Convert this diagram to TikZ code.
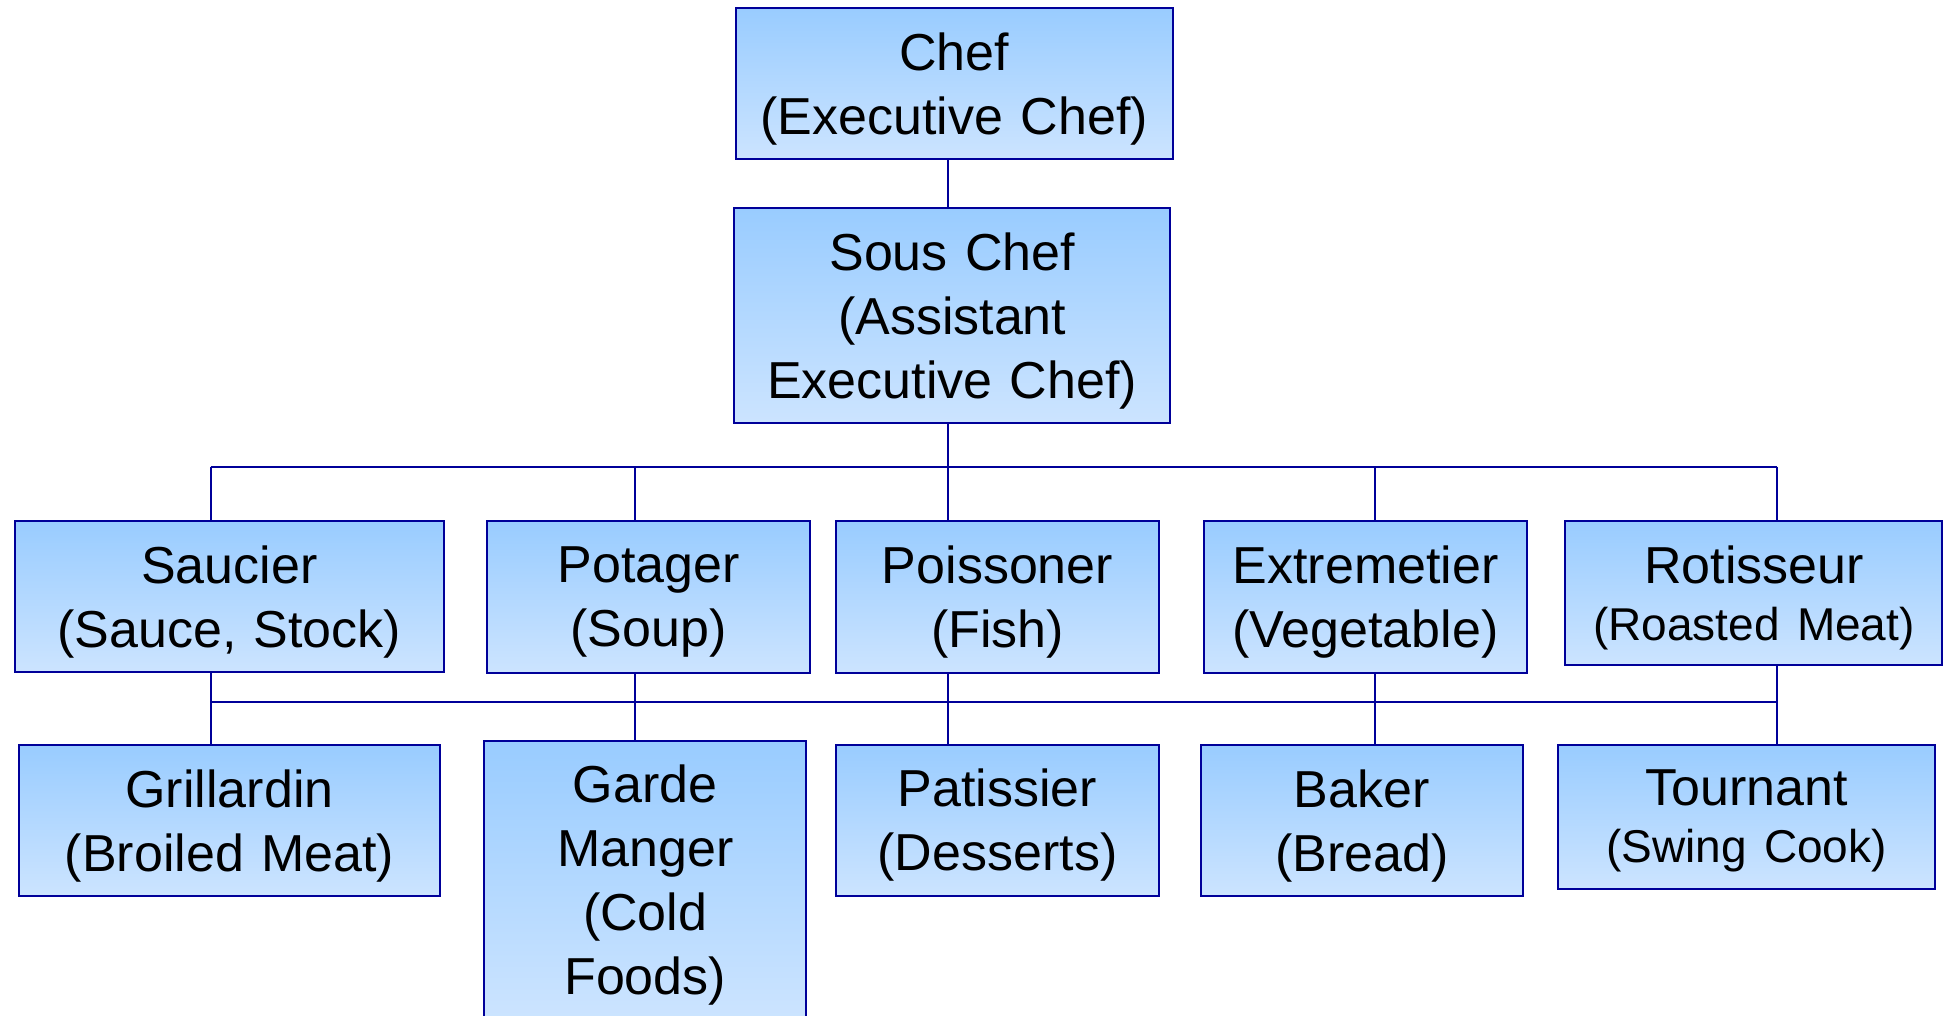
\documentclass[tikz,border=0pt]{standalone}
\usepackage{fontspec}
\setmainfont{Liberation Sans}
\definecolor{lineblue}{RGB}{0,0,153}
\definecolor{boxtop}{RGB}{153,204,255}
\definecolor{boxbot}{RGB}{204,228,255}
\begin{document}
\begin{tikzpicture}[x=1pt,y=-1pt,
  rolebox/.style={draw=lineblue, line width=2pt, top color=boxtop, bottom color=boxbot,
    rectangle, inner xsep=4pt, inner ysep=0pt, align=center, text depth=64pt,
    font=\fontsize{52}{64}\selectfont},
  wire/.style={draw=lineblue, line width=2pt}]
\useasboundingbox (0,0) rectangle (1945,1016);
% top levels
\node[rolebox, minimum width=437pt, text width=429pt, minimum height=151pt] (chef) at (954.2,83.5) {Chef\\(Executive Chef)};
\node[rolebox, text depth=128pt, minimum width=436.3pt, text width=428pt, minimum height=214.7pt] (sous) at (952.2,315.3) {Sous Chef\\(Assistant\\Executive Chef)};
% level 2
\node[rolebox, minimum width=429.3pt, text width=421pt, minimum height=151.6pt] (saucier) at (229.3,596.5) {Saucier\\(Sauce, Stock)};
\node[rolebox, minimum width=322.4pt, text width=314pt, minimum height=151.5pt] (potager) at (648.5,596.8) {Potager\\(Soup)};
\node[rolebox, minimum width=323pt, text width=315pt, minimum height=151.5pt] (poisson) at (997.5,596.8) {Poissoner\\(Fish)};
\node[rolebox, minimum width=322.4pt, text width=314pt, minimum height=151.5pt] (extrem) at (1365.6,596.8) {Extremetier\\(Vegetable)};
\node[rolebox, text depth=57pt, minimum width=377pt, text width=369pt, minimum height=144.2pt] (rotis) at (1753.9,593.1) {Rotisseur\\[-7pt]{\fontsize{46}{57}\selectfont (Roasted Meat)}};
% level 3
\node[rolebox, minimum width=421.6pt, text width=413pt, minimum height=150.7pt] (grill) at (229.5,820.3) {Grillardin\\(Broiled Meat)};
\node[rolebox, text depth=192pt, minimum width=322.4pt, text width=314pt, minimum height=277pt] (garde) at (645.2,879.6) {Garde\\Manger\\(Cold\\Foods)};
\node[rolebox, minimum width=323pt, text width=315pt, minimum height=151pt] (patis) at (997.5,820) {Patissier\\(Desserts)};
\node[rolebox, minimum width=322.5pt, text width=314pt, minimum height=151.4pt] (baker) at (1361.8,820.3) {Baker\\(Bread)};
\node[rolebox, text depth=57pt, minimum width=377pt, text width=369pt, minimum height=144pt] (tourn) at (1746.5,816.6) {Tournant\\[-7pt]{\fontsize{46}{57}\selectfont (Swing Cook)}};
% junction coordinates
\coordinate (cA) at (210.7,466.7);
\coordinate (cB) at (634.7,466.7);
\coordinate (cC) at (948,466.7);
\coordinate (cD) at (1375,466.7);
\coordinate (cE) at (1776.6,466.7);
\coordinate (dA) at (210.7,702);
\coordinate (dE) at (1776.6,702);
% connectors
\draw[wire] (chef.south -| cC) -- (sous.north -| cC);
\draw[wire] (sous.south -| cC) -- (cC);
\draw[wire] (cA) -- (cE);
\draw[wire] (cA) -- (saucier.north -| cA);
\draw[wire] (cB) -- (potager.north -| cB);
\draw[wire] (cC) -- (poisson.north -| cC);
\draw[wire] (cD) -- (extrem.north -| cD);
\draw[wire] (cE) -- (rotis.north -| cE);
\draw[wire] (dA) -- (dE);
\draw[wire] (saucier.south -| cA) -- (grill.north -| cA);
\draw[wire] (potager.south -| cB) -- (garde.north -| cB);
\draw[wire] (poisson.south -| cC) -- (patis.north -| cC);
\draw[wire] (extrem.south -| cD) -- (baker.north -| cD);
\draw[wire] (rotis.south -| cE) -- (tourn.north -| cE);
\end{tikzpicture}
\end{document}
